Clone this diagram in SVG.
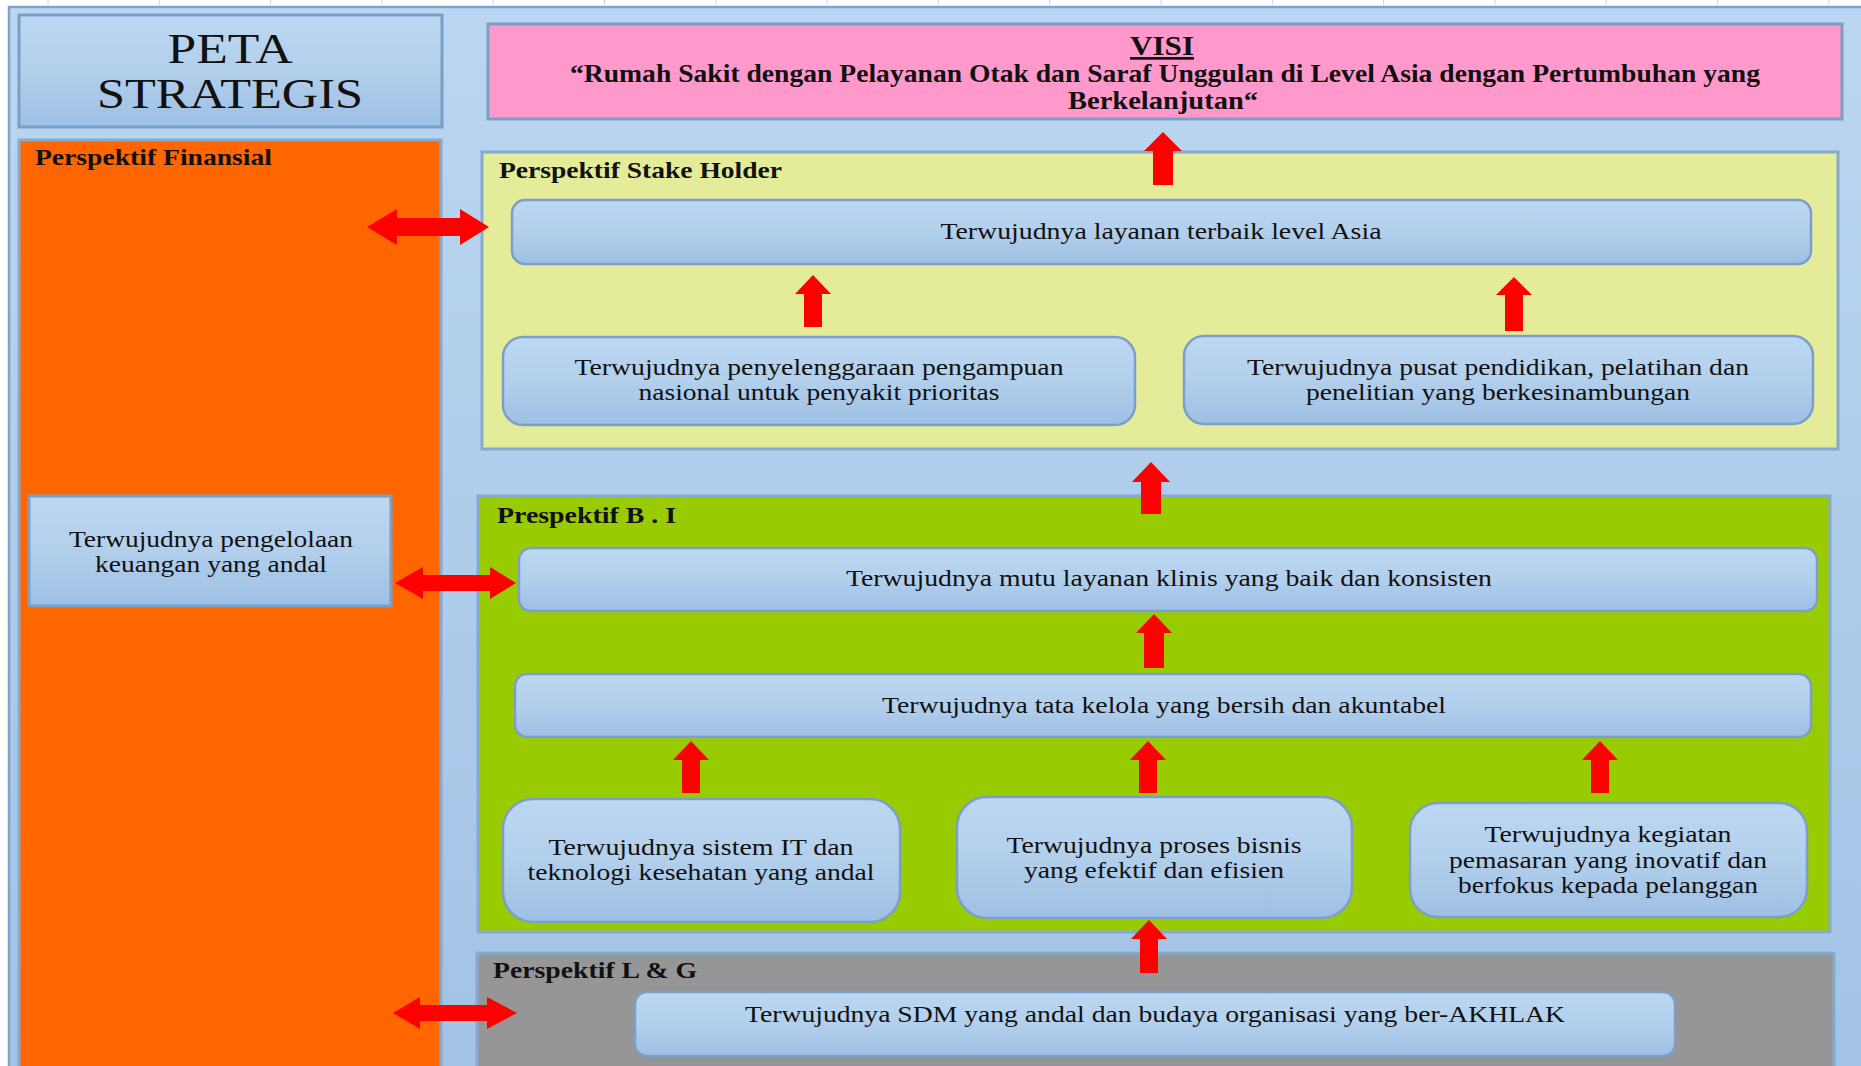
<svg xmlns="http://www.w3.org/2000/svg" width="1861" height="1066" viewBox="0 0 1861 1066">
<style>
  text { font-family: "Liberation Serif", "Times New Roman", serif; fill: #111; }
  .t { font-size: 24px; text-anchor: middle; }
  .h { font-size: 24px; font-weight: bold; }
  .v { font-size: 25px; font-weight: bold; text-anchor: middle; }
  .node { fill: url(#nodeGrad); stroke: #7B9FC8; stroke-width: 2.5; }
  .panel { stroke: #86A9D0; stroke-width: 3; }
  .arrow { fill: #FF0000; }
  .tick { stroke: #D4D4D4; stroke-width: 1; }
</style>
<defs>
  <linearGradient id="nodeGrad" x1="0" y1="0" x2="0" y2="1">
    <stop offset="0" stop-color="#BCD7F1"/>
    <stop offset="0.5" stop-color="#B2CFEC"/>
    <stop offset="1" stop-color="#9EC0E4"/>
  </linearGradient>
  <linearGradient id="bgGrad" x1="0" y1="0" x2="0" y2="1">
    <stop offset="0" stop-color="#BBD6F0"/>
    <stop offset="1" stop-color="#A2C3E6"/>
  </linearGradient>
</defs>

<!-- page background -->
<rect x="0" y="0" width="1861" height="1066" fill="#FFFFFF"/>
<g id="ticks">
  <line class="tick" x1="48" y1="0" x2="48" y2="5"/>
  <line class="tick" x1="159.3" y1="0" x2="159.3" y2="5"/>
  <line class="tick" x1="270.6" y1="0" x2="270.6" y2="5"/>
  <line class="tick" x1="381.9" y1="0" x2="381.9" y2="5"/>
  <line class="tick" x1="493.2" y1="0" x2="493.2" y2="5"/>
  <line class="tick" x1="604.5" y1="0" x2="604.5" y2="5"/>
  <line class="tick" x1="715.8" y1="0" x2="715.8" y2="5"/>
  <line class="tick" x1="827.1" y1="0" x2="827.1" y2="5"/>
  <line class="tick" x1="938.4" y1="0" x2="938.4" y2="5"/>
  <line class="tick" x1="1049.7" y1="0" x2="1049.7" y2="5"/>
  <line class="tick" x1="1161" y1="0" x2="1161" y2="5"/>
  <line class="tick" x1="1272.3" y1="0" x2="1272.3" y2="5"/>
  <line class="tick" x1="1383.6" y1="0" x2="1383.6" y2="5"/>
  <line class="tick" x1="1494.9" y1="0" x2="1494.9" y2="5"/>
  <line class="tick" x1="1606.2" y1="0" x2="1606.2" y2="5"/>
  <line class="tick" x1="1717.5" y1="0" x2="1717.5" y2="5"/>
  <line class="tick" x1="1828.8" y1="0" x2="1828.8" y2="5"/>
</g>
<rect x="9" y="7" width="1860" height="1070" fill="url(#bgGrad)" stroke="#7FA3CB" stroke-width="2.5"/>

<!-- title -->
<g id="title">
  <rect x="19" y="15" width="423" height="112" fill="url(#nodeGrad)" stroke="#7A9FC7" stroke-width="3"/>
  <text x="230" y="63" font-size="42" text-anchor="middle" textLength="125" lengthAdjust="spacingAndGlyphs">PETA</text>
  <text x="230" y="108" font-size="42" text-anchor="middle" textLength="266" lengthAdjust="spacingAndGlyphs">STRATEGIS</text>
</g>

<!-- visi -->
<g id="visi">
  <rect x="488" y="24" width="1354" height="95" fill="#FF99CC" stroke="#7A9FC7" stroke-width="3"/>
  <text x="1162" y="55" font-size="27" font-weight="bold" text-anchor="middle" text-decoration="underline" textLength="64" lengthAdjust="spacingAndGlyphs">VISI</text>
  <text class="v" x="1165" y="82" textLength="1190" lengthAdjust="spacingAndGlyphs">“Rumah Sakit dengan Pelayanan Otak dan Saraf Unggulan di Level Asia dengan Pertumbuhan yang</text>
  <text class="v" x="1163" y="109" textLength="190" lengthAdjust="spacingAndGlyphs">Berkelanjutan“</text>
</g>

<!-- perspektif finansial -->
<g id="finansial">
  <rect class="panel" x="19" y="140" width="422" height="940" fill="#FF6600"/>
  <text class="h" x="35" y="165" textLength="237" lengthAdjust="spacingAndGlyphs">Perspektif Finansial</text>
</g>
<g id="keuangan">
  <rect x="29" y="496" width="362" height="110" fill="url(#nodeGrad)" stroke="#7A9FC7" stroke-width="3"/>
  <text class="t" x="211" y="547" textLength="284" lengthAdjust="spacingAndGlyphs">Terwujudnya pengelolaan</text>
  <text class="t" x="211" y="572" textLength="232" lengthAdjust="spacingAndGlyphs">keuangan yang andal</text>
</g>

<!-- stake holder -->
<g id="stakeholder">
  <rect class="panel" x="482" y="152" width="1356" height="297" fill="#E4EC9A"/>
  <text class="h" x="499" y="178" textLength="283" lengthAdjust="spacingAndGlyphs">Perspektif Stake Holder</text>
</g>
<g id="layanan-asia">
  <rect class="node" x="512" y="200" width="1299" height="64" rx="13"/>
  <text class="t" x="1161" y="239" textLength="441" lengthAdjust="spacingAndGlyphs">Terwujudnya layanan terbaik level Asia</text>
</g>
<g id="pengampuan">
  <rect class="node" x="503" y="337" width="632" height="88" rx="20"/>
  <text class="t" x="819" y="375" textLength="489" lengthAdjust="spacingAndGlyphs">Terwujudnya penyelenggaraan pengampuan</text>
  <text class="t" x="819" y="400" textLength="361" lengthAdjust="spacingAndGlyphs">nasional untuk penyakit prioritas</text>
</g>
<g id="pendidikan">
  <rect class="node" x="1184" y="336" width="629" height="88" rx="20"/>
  <text class="t" x="1498" y="375" textLength="502" lengthAdjust="spacingAndGlyphs">Terwujudnya pusat pendidikan, pelatihan dan</text>
  <text class="t" x="1498" y="400" textLength="384" lengthAdjust="spacingAndGlyphs">penelitian yang berkesinambungan</text>
</g>

<!-- B.I -->
<g id="bisnis-internal">
  <rect class="panel" x="478" y="496" width="1352" height="436" fill="#99CC00"/>
  <text class="h" x="497" y="523" textLength="179" lengthAdjust="spacingAndGlyphs">Prespektif B . I</text>
</g>
<g id="mutu">
  <rect class="node" x="519" y="548" width="1298" height="63" rx="12"/>
  <text class="t" x="1169" y="586" textLength="646" lengthAdjust="spacingAndGlyphs">Terwujudnya mutu layanan klinis yang baik dan konsisten</text>
</g>
<g id="tata-kelola">
  <rect class="node" x="515" y="674" width="1296" height="63" rx="12"/>
  <text class="t" x="1164" y="713" textLength="564" lengthAdjust="spacingAndGlyphs">Terwujudnya tata kelola yang bersih dan akuntabel</text>
</g>
<g id="sistem-it">
  <rect class="node" x="503" y="799" width="397" height="123" rx="30"/>
  <text class="t" x="701" y="855" textLength="305" lengthAdjust="spacingAndGlyphs">Terwujudnya sistem IT dan</text>
  <text class="t" x="701" y="880" textLength="347" lengthAdjust="spacingAndGlyphs">teknologi kesehatan yang andal</text>
</g>
<g id="proses-bisnis">
  <rect class="node" x="957" y="797" width="395" height="121" rx="30"/>
  <text class="t" x="1154" y="853" textLength="295" lengthAdjust="spacingAndGlyphs">Terwujudnya proses bisnis</text>
  <text class="t" x="1154" y="878" textLength="260" lengthAdjust="spacingAndGlyphs">yang efektif dan efisien</text>
</g>
<g id="pemasaran">
  <rect class="node" x="1410" y="803" width="397" height="114" rx="28"/>
  <text class="t" x="1608" y="842" textLength="247" lengthAdjust="spacingAndGlyphs">Terwujudnya kegiatan</text>
  <text class="t" x="1608" y="868" textLength="318" lengthAdjust="spacingAndGlyphs">pemasaran yang inovatif dan</text>
  <text class="t" x="1608" y="893" textLength="300" lengthAdjust="spacingAndGlyphs">berfokus kepada pelanggan</text>
</g>

<!-- L&G -->
<g id="learning-growth">
  <rect class="panel" x="477" y="953" width="1357" height="130" fill="#969696"/>
  <text class="h" x="493" y="978" textLength="204" lengthAdjust="spacingAndGlyphs">Perspektif L &amp; G</text>
</g>
<g id="sdm">
  <rect class="node" x="635" y="992" width="1040" height="64" rx="12"/>
  <text class="t" x="1155" y="1022" textLength="820" lengthAdjust="spacingAndGlyphs">Terwujudnya SDM yang andal dan budaya organisasi yang ber-AKHLAK</text>
</g>

<!-- connectors -->
<g id="connectors">
  <polygon class="arrow" points="1163,132 1182,151 1173,151 1173,185 1153,185 1153,151 1144,151"/>
  <polygon class="arrow" points="813,275 831,294 822,294 822,327 804,327 804,294 795,294"/>
  <polygon class="arrow" points="1514,277 1532,295 1523,295 1523,331 1505,331 1505,295 1496,295"/>
  <polygon class="arrow" points="1151,462 1170,482 1161,482 1161,514 1141,514 1141,482 1132,482"/>
  <polygon class="arrow" points="1154,614 1172,633 1164,633 1164,668 1144,668 1144,633 1136,633"/>
  <polygon class="arrow" points="691,741 709,760 700,760 700,793 682,793 682,760 673,760"/>
  <polygon class="arrow" points="1148,741 1166,760 1157,760 1157,793 1139,793 1139,760 1130,760"/>
  <polygon class="arrow" points="1600,741 1618,760 1609,760 1609,793 1591,793 1591,760 1582,760"/>
  <polygon class="arrow" points="1149,920 1167,939 1158,939 1158,973 1140,973 1140,939 1131,939"/>
  <polygon class="arrow" points="367,227 397,209 397,218 460,218 460,209 489,227 460,245 460,236 397,236 397,245"/>
  <polygon class="arrow" points="395,583 423,567 423,575 490,575 490,567 516,583 490,599 490,591 423,591 423,599"/>
  <polygon class="arrow" points="393,1013 420,997 420,1005 487,1005 487,997 517,1013 487,1029 487,1021 420,1021 420,1029"/>
</g>
</svg>
